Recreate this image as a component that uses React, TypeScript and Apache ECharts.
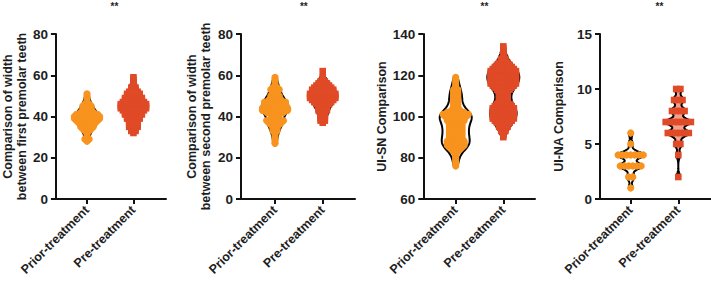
import { useEffect, useRef } from "react";
import * as echarts from "echarts";

type Row = [number, number];

const categories = ["Prior-treatment", "Pre-treatment"];
const significanceMark = "**";

const yAxisTitles = [
  "Comparison of width\nbetween first premolar teeth",
  "Comparison of width\nbetween second premolar teeth",
  "UI-SN Comparison",
  "UI-NA Comparison",
];
const yMins = [0, 0, 60, 0];
const yMaxs = [80, 80, 140, 15];
const yIntervals = [20, 20, 20, 5];

// Frequency tables: [measured value, number of subjects with that value]
const firstPremolarPrior: Row[] = [
  [28, 1], [29, 2], [30, 1], [31, 1], [33, 2], [34, 3], [35, 4], [36, 4],
  [37, 5], [38, 6], [39, 7], [40, 7], [41, 6], [42, 4], [43, 3], [44, 3],
  [45, 3], [46, 2], [47, 1], [48, 1], [49, 1], [50, 1], [51, 1],
];
const firstPremolarPre: Row[] = [
  [32, 1], [33, 2], [34, 2], [35, 3], [36, 3], [37, 3], [38, 3], [39, 4],
  [40, 4], [41, 5], [42, 5], [43, 6], [44, 7], [45, 7], [46, 7], [47, 6],
  [48, 5], [49, 5], [50, 4], [51, 4], [52, 3], [53, 2], [54, 2], [55, 1],
  [56, 1], [57, 1], [58, 1], [59, 1],
];
const secondPremolarPrior: Row[] = [
  [27, 1], [28, 1], [29, 1], [30, 1], [31, 1], [32, 1], [33, 2], [34, 2],
  [35, 2], [36, 3], [37, 4], [38, 5], [39, 3], [40, 2], [41, 3], [42, 5],
  [43, 7], [44, 7], [45, 6], [46, 6], [47, 6], [48, 4], [49, 3], [50, 3],
  [51, 2], [52, 2], [53, 3], [54, 2], [55, 1], [56, 1], [57, 1], [58, 1],
  [59, 1],
];
const secondPremolarPre: Row[] = [
  [37, 1], [38, 2], [39, 2], [40, 2], [41, 2], [42, 2], [43, 3], [44, 3],
  [45, 3], [46, 4], [47, 5], [48, 6], [49, 7], [50, 7], [51, 7], [52, 6],
  [53, 6], [54, 5], [55, 4], [56, 3], [57, 2], [58, 1], [59, 1], [62, 1],
];
const uiSnPrior: Row[] = [
  [76, 1], [77, 1], [78, 1], [79, 1], [80, 1], [81, 1], [82, 1], [83, 2],
  [84, 3], [85, 4], [86, 5], [87, 5], [88, 5], [89, 4], [90, 4], [91, 4],
  [92, 4], [93, 4], [94, 4], [95, 4], [96, 4], [97, 4], [98, 5], [99, 5],
  [100, 6], [101, 7], [102, 5], [103, 3], [104, 2], [105, 2], [106, 2],
  [107, 2], [108, 2], [109, 2], [110, 2], [111, 2], [112, 2], [113, 2],
  [114, 1], [115, 1], [116, 1], [117, 1], [118, 1], [119, 1],
];
const uiSnPre: Row[] = [
  [90, 1], [91, 1], [92, 1], [93, 2], [94, 2], [95, 3], [96, 3], [97, 4],
  [98, 5], [99, 6], [100, 6], [101, 6], [102, 6], [103, 6], [104, 6],
  [105, 5], [106, 4], [107, 3], [108, 3], [109, 3], [110, 3], [111, 3],
  [112, 3], [113, 4], [114, 5], [115, 6], [116, 7], [117, 7], [118, 7],
  [119, 7], [120, 7], [121, 7], [122, 7], [123, 6], [124, 5], [125, 4],
  [126, 3], [127, 2], [128, 2], [129, 1], [130, 1], [131, 1], [132, 1],
  [133, 1], [134, 1],
];
const uiNaPrior: Row[] = [[1, 1], [2, 2], [3, 6], [4, 7], [5, 1], [6, 1]];
const uiNaPre: Row[] = [
  [2, 1], [4, 1], [5, 2], [6, 6], [7, 7], [8, 4], [9, 3], [10, 2],
];

const panelGroups: Row[][][] = [
  [firstPremolarPrior, firstPremolarPre],
  [secondPremolarPrior, secondPremolarPre],
  [uiSnPrior, uiSnPre],
  [uiNaPrior, uiNaPre],
];

// Layout and styling
const gridLefts = [54.5, 241, 423.3, 600];
const gridWidths = [111.5, 114, 111.7, 111];
const gridTop = 34;
const gridHeight = 165;
const xMins = [-0.67, -0.713, -0.681, -0.645];
const xMaxs = [1.702, 1.677, 1.666, 1.687];
const nameGaps = [25, 28, 34, 34];
const bandwidths = [2.5, 2.5, 2.5, 0.3];
const violinHalfWidths = [12, 13.5, 16, 13];

const PRIOR_COLOR = "#F7931E";
const PRE_COLOR = "#E04A26";
const markerColors = [PRIOR_COLOR, PRE_COLOR];
const violinFills = [
  ["#ffffff", "#ffffff"],
  ["#ffffff", "#ffffff"],
  ["#ffffff", "#ffffff"],
  ["#ffffff", "#F2A28C"],
];
const SPACING = 4.2;
const INK = "#111111";
const FONT = "'Liberation Sans', Arial, sans-serif";

function makeRenderItem(panel: number) {
  const groups = panelGroups[panel];
  const h = bandwidths[panel];
  const maxHalf = violinHalfWidths[panel];
  return (params: any, api: any) => {
    const g = params.dataIndex as number;
    const rows = groups[g];
    const vals = rows.map((r) => r[0]);
    const lo = Math.min(...vals);
    const hi = Math.max(...vals);
    const steps = 120;
    const dens: number[] = [];
    for (let k = 0; k <= steps; k++) {
      const v = lo + ((hi - lo) * k) / steps;
      let s = 0;
      for (const [x, n] of rows) {
        const z = (v - x) / h;
        s += n * Math.exp(-0.5 * z * z);
      }
      dens.push(s);
    }
    const dmax = Math.max(...dens);
    const leftSide: number[][] = [];
    const rightSide: number[][] = [];
    for (let k = 0; k <= steps; k++) {
      const v = lo + ((hi - lo) * k) / steps;
      const p = api.coord([g, v]);
      const w = (dens[k] / dmax) * maxHalf;
      leftSide.push([p[0] - w, p[1]]);
      rightSide.push([p[0] + w, p[1]]);
    }
    const children: any[] = [
      {
        type: "polygon",
        shape: { points: leftSide.concat(rightSide.reverse()) },
        style: {
          fill: violinFills[panel][g],
          stroke: "#000",
          lineWidth: 2,
          lineJoin: "round",
        },
      },
    ];
    const color = markerColors[g];
    for (const [v, n] of rows) {
      const p = api.coord([g, v]);
      for (let i = 0; i < n; i++) {
        const ox = (i - (n - 1) / 2) * SPACING;
        if (g === 0) {
          children.push({
            type: "circle",
            shape: { cx: p[0] + ox, cy: p[1], r: 3.6 },
            style: { fill: color },
          });
        } else {
          children.push({
            type: "rect",
            shape: { x: p[0] + ox - 3.3, y: p[1] - 3.3, width: 6.6, height: 6.6 },
            style: { fill: color },
          });
        }
      }
    }
    return { type: "group", children };
  };
}

function buildOption(): any {
  const grid: any[] = [];
  const xAxis: any[] = [];
  const yAxis: any[] = [];
  const series: any[] = [];
  const title: any[] = [];
  for (let i = 0; i < 4; i++) {
    grid.push({
      left: gridLefts[i],
      top: gridTop,
      width: gridWidths[i],
      height: gridHeight,
      containLabel: false,
    });
    xAxis.push({
      type: "value",
      gridIndex: i,
      min: xMins[i],
      max: xMaxs[i],
      splitLine: { show: false },
      axisLine: { show: true, onZero: false, lineStyle: { color: INK, width: 2 } },
      axisTick: {
        show: true,
        customValues: [0, 1],
        length: 5,
        lineStyle: { color: INK, width: 2 },
      },
      axisLabel: {
        customValues: [0, 1],
        formatter: (v: number) => categories[Math.round(v)] ?? "",
        rotate: 45,
        margin: 9,
        fontSize: 12.5,
        fontWeight: "bold",
        color: "#1e1e1e",
        fontFamily: FONT,
      },
    });
    yAxis.push({
      type: "value",
      gridIndex: i,
      min: yMins[i],
      max: yMaxs[i],
      interval: yIntervals[i],
      name: yAxisTitles[i],
      nameLocation: "middle",
      nameGap: nameGaps[i],
      nameTextStyle: {
        fontSize: 12.5,
        fontWeight: "bold",
        color: "#1e1e1e",
        fontFamily: FONT,
        lineHeight: 14,
      },
      splitLine: { show: false },
      axisLine: { show: true, onZero: false, lineStyle: { color: INK, width: 2 } },
      axisTick: { show: true, length: 5, lineStyle: { color: INK, width: 2 } },
      axisLabel: {
        margin: 8,
        fontSize: 13.5,
        fontWeight: "bold",
        color: "#1e1e1e",
        fontFamily: FONT,
      },
    });
    series.push({
      type: "custom",
      xAxisIndex: i,
      yAxisIndex: i,
      clip: false,
      renderItem: makeRenderItem(i),
      encode: { x: 0, y: 1 },
      data: panelGroups[i].map((rows, g) => [g, rows[0][0]]),
    });
    const unit = gridWidths[i] / (xMaxs[i] - xMins[i]);
    title.push({
      text: significanceMark,
      left: gridLefts[i] + (0.5 - xMins[i]) * unit,
      top: -4,
      textAlign: "center",
      textStyle: {
        fontSize: 10,
        fontWeight: "bold",
        color: "#1e1e1e",
        fontFamily: FONT,
      },
    });
  }
  return {
    animation: false,
    backgroundColor: "#ffffff",
    textStyle: { fontFamily: FONT },
    title,
    grid,
    xAxis,
    yAxis,
    series,
  };
}

export default function App() {
  const ref = useRef<HTMLDivElement>(null);
  useEffect(() => {
    if (!ref.current) return;
    const chart = echarts.init(ref.current, undefined, { renderer: "svg" });
    chart.setOption(buildOption());
    return () => chart.dispose();
  }, []);
  return (
    <div
      ref={ref}
      style={{ position: "fixed", left: 0, top: 0, width: 711, height: 281 }}
    />
  );
}
